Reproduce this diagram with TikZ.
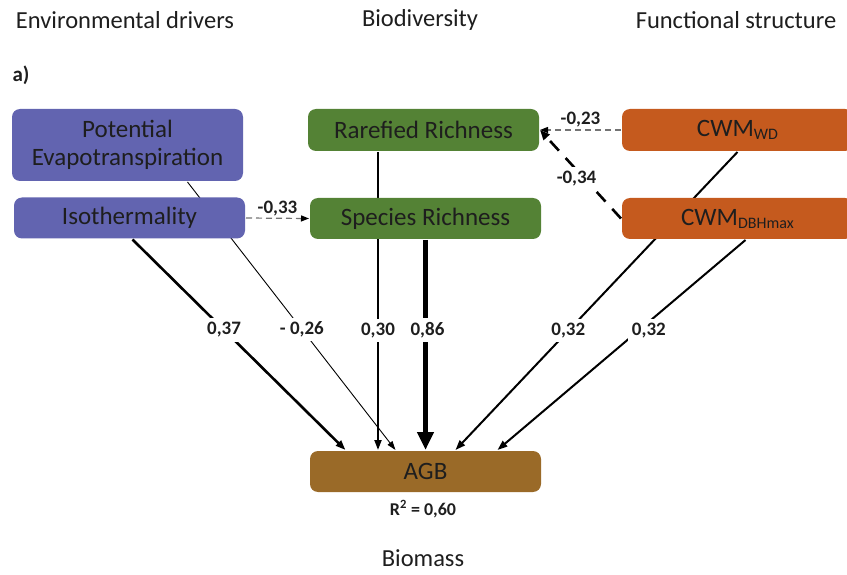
\documentclass[tikz,border=0pt]{standalone}
\usepackage{fontspec}
\setmainfont{Carlito}
\usetikzlibrary{arrows.meta,backgrounds}

\definecolor{envblue}{HTML}{6264B0}
\definecolor{biogreen}{HTML}{548235}
\definecolor{funorange}{HTML}{C55A1E}
\definecolor{agbbrown}{HTML}{9A6A28}
\definecolor{txtgray}{HTML}{1E1E1E}

\newcommand\subtxt[1]{\raisebox{-0.12em}{\fontsize{16}{16}\selectfont #1}}

\tikzset{
  box/.style={rounded corners=8pt, minimum width=231pt, minimum height=41pt,
    inner sep=0pt, text=txtgray, align=center, font=\fontsize{25}{28}\selectfont},
  head/.style={text=txtgray, inner sep=1pt, font=\fontsize{24.5}{28}\selectfont},
  coef/.style={font=\bfseries\fontsize{19}{22}\selectfont, text=txtgray, fill=white, inner sep=4pt},
  effect/.style={line width=2pt, -{Triangle[length=10pt,width=7pt]}},
  neg/.style={dash pattern=on 6pt off 4pt, draw=black!55, line width=1.2pt,
    -{Triangle[length=8pt,width=6pt,color=black]}}
}

\begin{document}
\begin{tikzpicture}[x=1pt,y=1pt,line width=2pt]
\clip (0,0) rectangle (847,574);

\node[head] (envh) at (125,554) {Environmental drivers};
\node[head] (bioh) at (420,554) {Biodiversity};
\node[head] (funh) at (736,554) {Functional structure};
\node[font=\bfseries\fontsize{21}{24}\selectfont, text=txtgray] (lab) at (21,499) {a)};

\node[box, fill=envblue, minimum height=72pt] (pet) at (127.5,429) {Potential\\Evapotranspiration};
\node[box, fill=envblue] (iso) at (129.5,356) {Isothermality};
\node[box, fill=biogreen, minimum height=42pt] (rare) at (423.5,444) {Rarefied Richness};
\node[box, fill=biogreen] (spec) at (425.5,355.5) {Species Richness};
\node[box, fill=funorange, minimum height=42pt] (wd) at (737.5,444) {CWM\subtxt{WD}};
\node[box, fill=funorange] (dbh) at (737.5,355.5) {CWM\subtxt{DBHmax}};
\node[box, fill=agbbrown] (agb) at (425.5,102.5) {AGB};

\node[font=\bfseries\fontsize{18}{21}\selectfont, text=txtgray] (rsq) at (423,65) {R\textsuperscript{2} = 0,60};
\node[head] (bms) at (423,16) {Biomass};

\begin{scope}[on background layer]
% paths to biomass
\draw[effect, line width=2.6pt] ([xshift=3pt]iso.south) -- node[coef, pos=0.43] {0,37} ([xshift=-80pt]agb.north);
\draw[line width=0.9pt, -{Triangle[length=9pt,width=6pt]}] ([xshift=60pt]pet.south) -- node[coef, pos=0.55] {- 0,26} ([xshift=-30pt]agb.north);
\draw[effect] ([xshift=-45.5pt]rare.south) -- node[coef, pos=0.6] {0,30} ([xshift=-47.5pt]agb.north);
\draw[line width=5.5pt, -{Triangle[length=18pt,width=16pt]}] (spec.south) -- node[coef, pos=0.43, xshift=2pt] {0,86} (agb.north);
\draw[effect] (wd.south) -- node[coef, pos=0.6] {0,32} ([xshift=30pt]agb.north);
\draw[effect] ([xshift=8pt]dbh.south) -- node[coef, pos=0.43, xshift=10pt] {0,32} ([xshift=72pt]agb.north);
% negative links
\draw[neg] (iso.east) -- node[coef, fill=none, above, yshift=-2pt] {-0,33} (spec.west);
\draw[neg] (wd.west) -- node[coef, fill=none, above, yshift=-2pt] {-0,23} (rare.east);
\draw[line width=2.6pt, dash pattern=on 13pt off 10pt, -{Triangle[length=10pt,width=8pt]}]
  (dbh.west) -- node[coef, pos=0.45, xshift=-8pt] {-0,34} (rare.east);
\end{scope}
\end{tikzpicture}
\end{document}
